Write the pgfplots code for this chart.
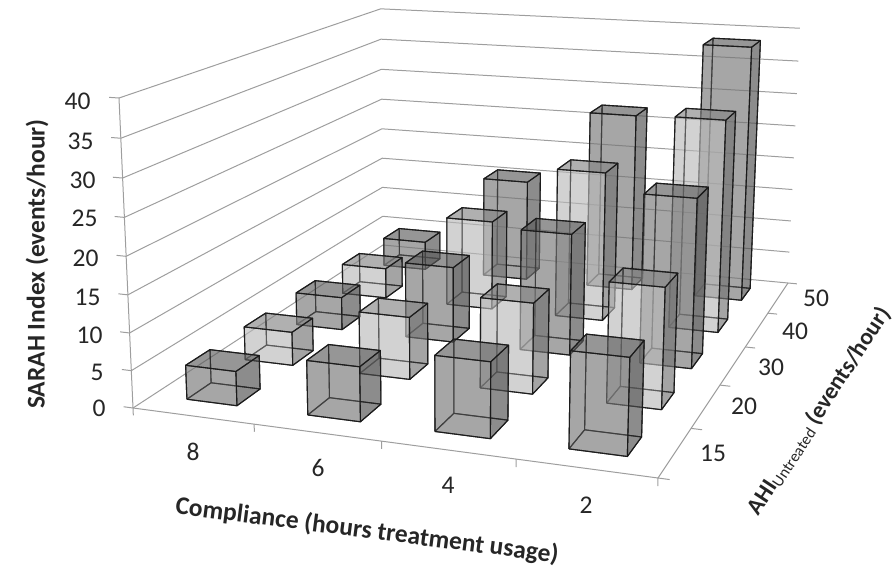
\documentclass[border=0pt]{standalone}
\usepackage{pgfplots}
\pgfplotsset{compat=1.18}
\usepackage{pgfplotstable}
\usepackage{fontspec}
\setmainfont{Carlito}

% back faces, right side, top
\definecolor{darkB}{gray}{0.455}
\definecolor{darkR}{gray}{0.20}
\definecolor{darkT}{gray}{0.30}
\definecolor{lightB}{gray}{0.725}
\definecolor{lightR}{gray}{0.28}
\definecolor{lightT}{gray}{0.39}
\definecolor{gridc}{gray}{0.62}
\definecolor{edgec}{gray}{0.10}

% cube corners, a along compliance, b along AHI, c up
\pgfplotstableread{
a b c
0 0 0
1 0 0
1 0 1
0 0 1
0 0 0
}\frontface
\pgfplotstableread{
a b c
0 1 0
1 1 0
1 1 1
0 1 1
0 1 0
}\backface
\pgfplotstableread{
a b c
0 0 0
0 1 0
0 1 1
0 0 1
0 0 0
}\leftface
\pgfplotstableread{
a b c
1 0 0
1 1 0
1 1 1
1 0 1
1 0 0
}\rightface
\pgfplotstableread{
a b c
0 0 0
1 0 0
1 1 0
0 1 0
0 0 0
}\bottomface
\pgfplotstableread{
a b c
0 0 1
1 0 1
1 1 1
0 1 1
0 0 1
}\topface
\pgfplotstableread{
u v
0 0
0 1
1 1
}\wall
\pgfplotstableread{
u v
0 0
1 0
1 1
}\floorline
\pgfplotstableread{
t d
0 0
1 0
}\tick

\newcommand\face[5]{%
  \addplot[fill=#2,fill opacity=0.4,draw=edgec,draw opacity=0.9,line width=1.1pt,line join=round]
    table[x expr={px(0.072+0.25*#3+0.105*\thisrow{a},0.062+0.2*#4+0.08*\thisrow{b},#5/40*\thisrow{c})},
          y expr={py(0.072+0.25*#3+0.105*\thisrow{a},0.062+0.2*#4+0.08*\thisrow{b},#5/40*\thisrow{c})}]{#1};}
% shade, column, row, value
\newcommand\onebar[4]{%
  \face{\backface}{#1B}{#2}{#3}{#4}
  \face{\leftface}{#1B}{#2}{#3}{#4}
  \face{\bottomface}{#1B}{#2}{#3}{#4}
  \face{\frontface}{#1B}{#2}{#3}{#4}
  \face{\rightface}{#1R}{#2}{#3}{#4}
  \face{\topface}{#1T}{#2}{#3}{#4}}

\begin{document}
\begin{tikzpicture}[every node/.style={font=\fontsize{25.5}{28}\selectfont,text=black!85}]
\begin{axis}[
    scale only axis,
    width=894pt,
    height=572pt,
    xmin=0,xmax=894,
    ymin=0,ymax=572,
    y dir=reverse,
    axis lines=none,
    clip=false,
    no markers,
    declare function={
      ww(\pa,\pb,\pc)=1-0.1001*\pa+0.3284*\pb-0.042*\pc;
      px(\pa,\pb,\pc)=(459.13*\pa+375.78*\pb-19*\pc+133)/ww(\pa,\pb,\pc);
      py(\pa,\pb,\pc)=(22.15*\pa-82.54*\pb-314.1*\pc+408)/ww(\pa,\pb,\pc);
    },
    gridl/.style={draw=gridc,line width=1pt},
]
% walls
\pgfplotsinvokeforeach{0,5,10,15,20,25,30,35,40}{
  \addplot[gridl] table[x expr={px(\thisrow{u},\thisrow{v},#1/40)},y expr={py(\thisrow{u},\thisrow{v},#1/40)}]{\wall};
  \addplot[gridl] table[x expr={px(-0.02*\thisrow{t},0,#1/40)},y expr={py(-0.02*\thisrow{t},0,#1/40)}]{\tick};
}
\addplot[gridl] table[x expr={px(0,0,\thisrow{t})},y expr={py(0,0,\thisrow{t})}]{\tick};
\addplot[gridl] table[x expr={px(\thisrow{u},\thisrow{v},0)},y expr={py(\thisrow{u},\thisrow{v},0)}]{\floorline};
\pgfplotsinvokeforeach{0,0.25,0.5,0.75,1}{
  \addplot[gridl] table[x expr={px(#1,0,-0.025*\thisrow{t})},y expr={py(#1,0,-0.025*\thisrow{t})}]{\tick};
}
\pgfplotsinvokeforeach{0,0.2,0.4,0.6,0.8,1}{
  \addplot[gridl] table[x expr={px(1+0.02*\thisrow{t},#1,0)},y expr={py(1+0.02*\thisrow{t},#1,0)}]{\tick};
}

% bars, back row first
\onebar{dark}{0}{4}{4.5}
\onebar{dark}{1}{4}{15.7}
\onebar{dark}{2}{4}{27.3}
\onebar{dark}{3}{4}{38.6}
\onebar{light}{0}{3}{4.6}
\onebar{light}{1}{3}{13.4}
\onebar{light}{2}{3}{22.1}
\onebar{light}{3}{3}{30.9}
\onebar{dark}{0}{2}{4.8}
\onebar{dark}{1}{2}{10.9}
\onebar{dark}{2}{2}{17.2}
\onebar{dark}{3}{2}{23.6}
\onebar{light}{0}{1}{4.7}
\onebar{light}{1}{1}{8.6}
\onebar{light}{2}{1}{12.3}
\onebar{light}{3}{1}{16.1}
\onebar{dark}{0}{0}{4.6}
\onebar{dark}{1}{0}{7.2}
\onebar{dark}{2}{0}{9.8}
\onebar{dark}{3}{0}{12.3}

% tick labels
\node[anchor=east] at (axis cs:94,101) {40};
\node[anchor=east] at (axis cs:97,141) {35};
\node[anchor=east] at (axis cs:99,180) {30};
\node[anchor=east] at (axis cs:101,218) {25};
\node[anchor=east] at (axis cs:102,258) {20};
\node[anchor=east] at (axis cs:104,297) {15};
\node[anchor=east] at (axis cs:106,335) {10};
\node[anchor=east] at (axis cs:107,372) {5};
\node[anchor=east] at (axis cs:109,408) {0};
\node at (axis cs:193,452) {8};
\node at (axis cs:318,468) {6};
\node at (axis cs:448,485) {4};
\node at (axis cs:586,505) {2};
\node at (axis cs:713,453) {15};
\node at (axis cs:744,406) {20};
\node at (axis cs:771,367) {30};
\node at (axis cs:795,331) {40};
\node at (axis cs:816,298) {50};

% axis titles
\node[rotate=90,font=\fontsize{25.5}{28}\selectfont\bfseries] at (axis cs:37,264) {SARAH Index (events/hour)};
\node[rotate=-7.3,font=\fontsize{25.5}{28}\selectfont\bfseries] at (axis cs:367,531) {Compliance (hours treatment usage)};
\node[rotate=56.7,inner sep=0pt,font=\fontsize{23.5}{26}\selectfont\bfseries] at (axis cs:819,411) {AHI\raisebox{-3pt}{\fontsize{16}{18}\selectfont\mdseries Untreated} (events/hour)};
\end{axis}
% page is the frame of the axis, the rotated title boxes stick out of it
\pgfresetboundingbox
\path[use as bounding box] (0,0) rectangle (894pt,572pt);
\end{tikzpicture}
\end{document}
